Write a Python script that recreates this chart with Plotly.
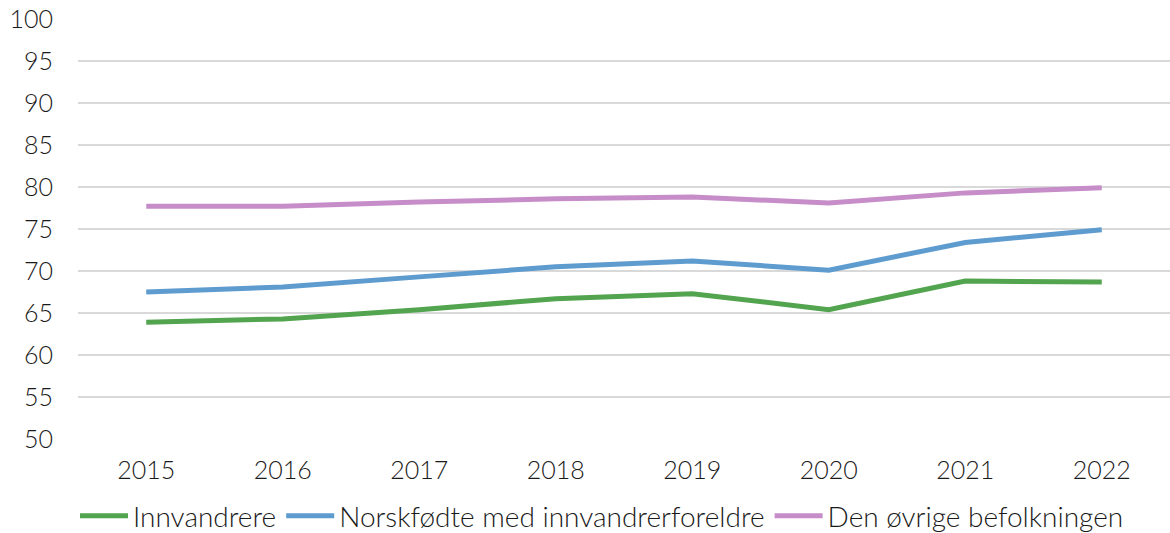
import plotly.graph_objects as go

years = ["2015", "2016", "2017", "2018", "2019", "2020", "2021", "2022"]
innvandrere = [63.9, 64.3, 65.4, 66.7, 67.3, 65.4, 68.8, 68.7]
norskfodte = [67.5, 68.1, 69.3, 70.5, 71.2, 70.1, 73.4, 74.9]
ovrige = [77.7, 77.7, 78.2, 78.6, 78.8, 78.1, 79.3, 79.9]

names = ["Innvandrere", "Norskfødte med innvandrerforeldre", "Den øvrige befolkningen"]
colors = ["#52A44F", "#5E9BCF", "#C68DC8"]
series = [innvandrere, norskfodte, ovrige]

fig = go.Figure()
for n, c, s in zip(names, colors, series):
    fig.add_trace(go.Scatter(x=years, y=s, name=n, mode="lines",
                             line=dict(color=c, width=5)))

font = dict(family="Lato", size=25, color="#1a1a1a", weight=300)
fig.update_layout(
    width=1170, height=533,
    margin=dict(l=78, r=0, t=19, b=94),
    plot_bgcolor="white", paper_bgcolor="white",
    font=font,
    showlegend=True,
    legend=dict(orientation="h", xref="container", x=602 / 1170, xanchor="center",
                yref="container", y=17 / 533, yanchor="middle",
                font=dict(family="Lato", size=28, color="#1a1a1a", weight=300),
                itemwidth=48, traceorder="normal"),
    xaxis=dict(type="category", range=[-0.5, 7.5], showgrid=False, showline=False,
               ticks="", ticklabelstandoff=14, tickfont=font, automargin=False),
    yaxis=dict(range=[50, 100], dtick=5, showgrid=True, gridcolor="#D9D9D9",
               gridwidth=1.5, zeroline=False, showline=False, ticks="",
               ticklabelstandoff=24, tickfont=font, automargin=False),
)
fig.write_html("out.html", config={"displayModeBar": False},
               post_script="document.body.style.margin='0';document.body.style.overflow='hidden';")
